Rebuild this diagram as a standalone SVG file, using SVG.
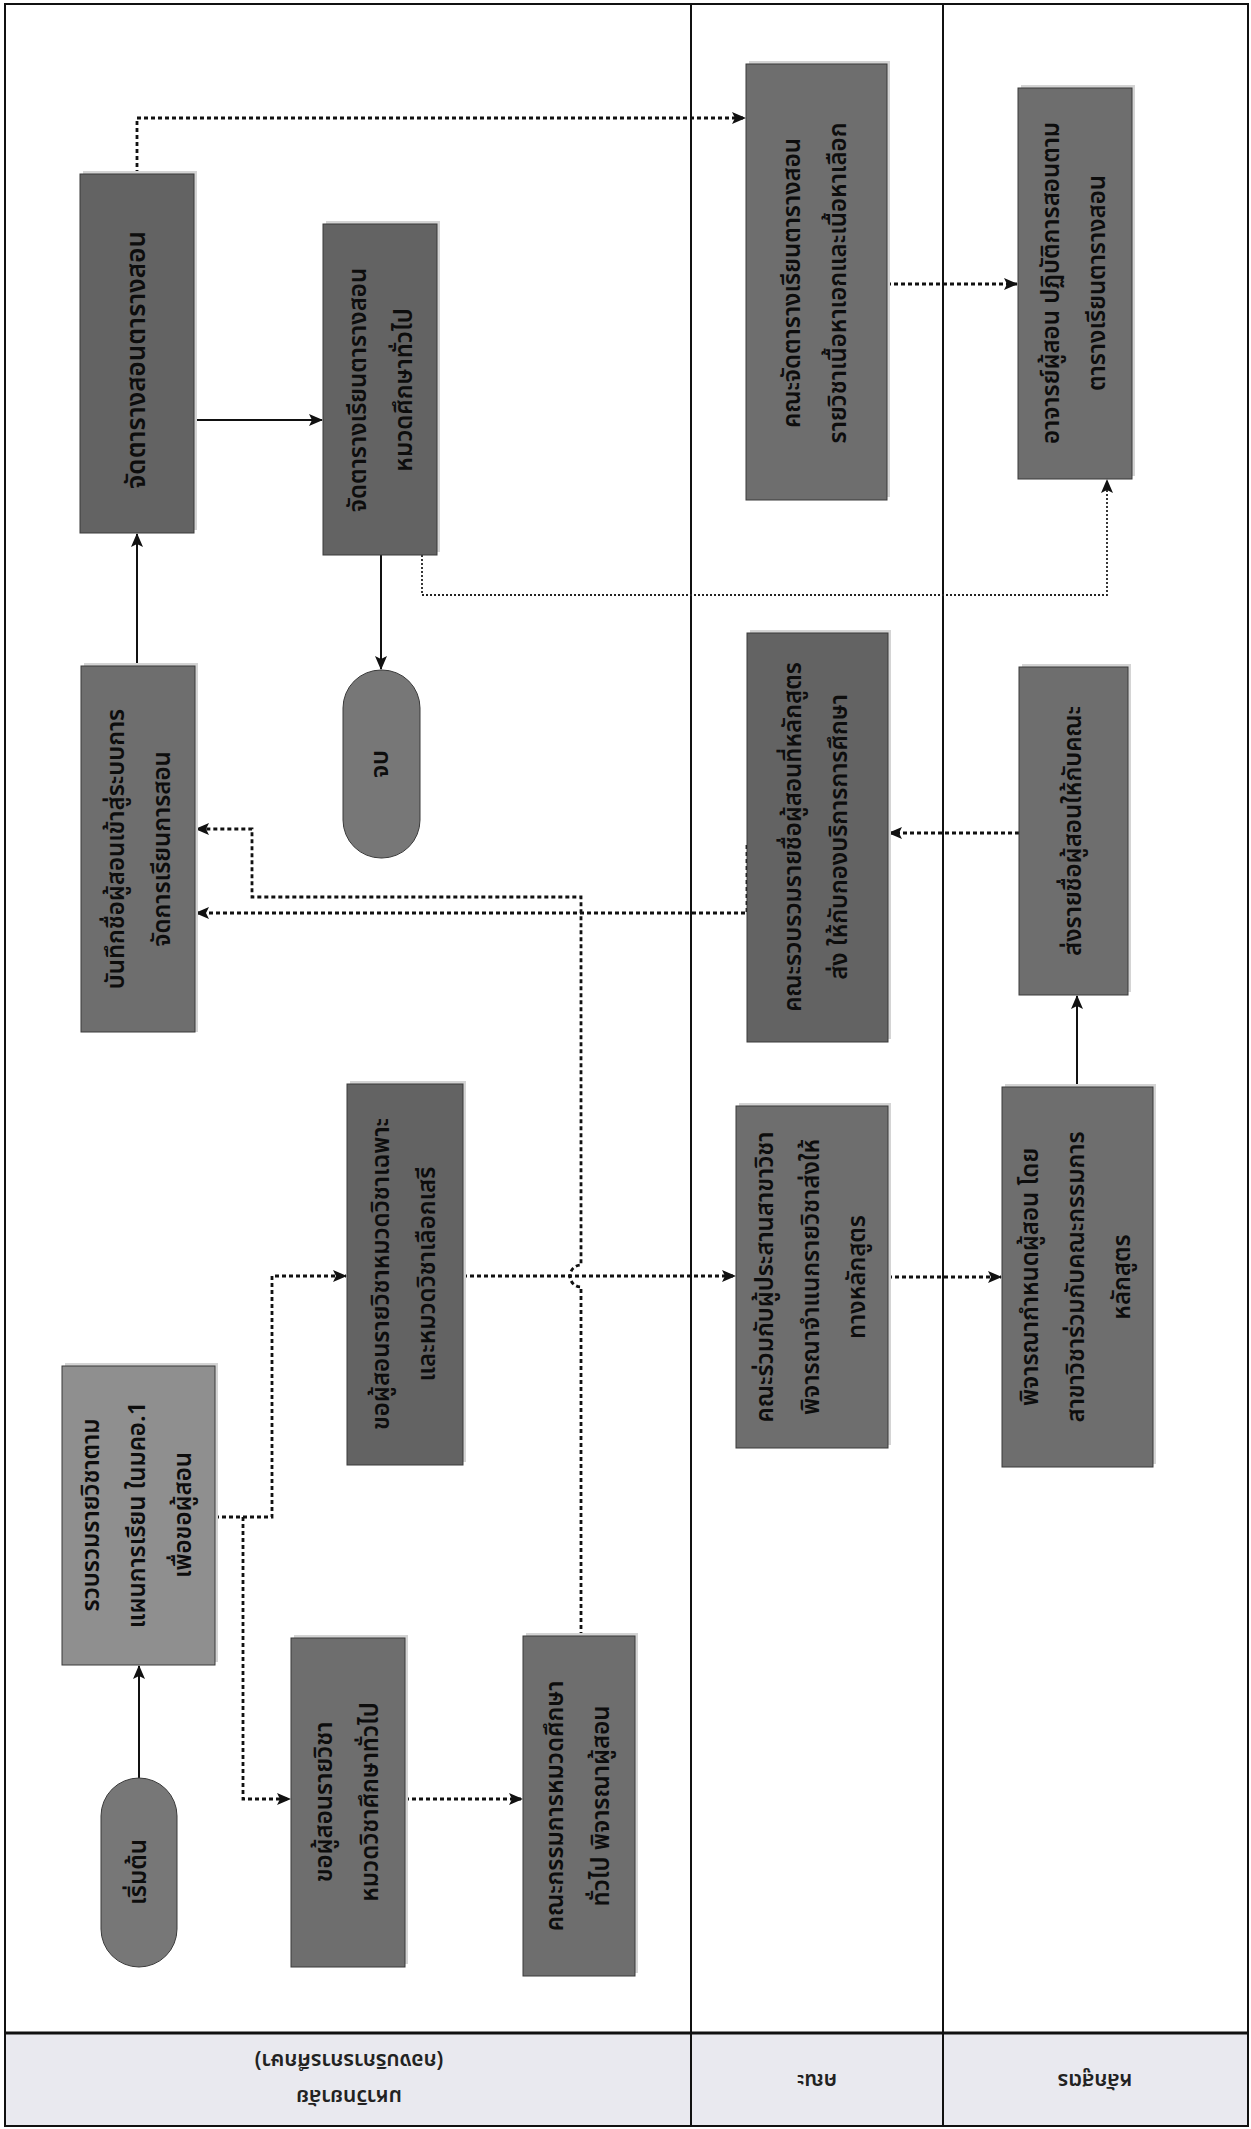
<svg xmlns="http://www.w3.org/2000/svg" width="1251" height="2129" viewBox="0 0 1251 2129">
<style>
.box{stroke:#3a3a3a;stroke-width:1}
.d1{fill:#6e6e6e}
.d2{fill:#636363}
.lt{fill:#8f8f8f}
.ov{fill:#777}
.sh{fill:#d4d4d4}
.t{font-family:"Noto Sans Thai","Tahoma","Noto Sans","DejaVu Sans",sans-serif;font-size:24px;font-weight:600;fill:#0d0d0d;text-anchor:middle;dominant-baseline:central}
.h{font-family:"Noto Sans Thai","Tahoma","Noto Sans","DejaVu Sans",sans-serif;font-size:21px;font-weight:600;fill:#222;text-anchor:middle;dominant-baseline:central}
.solid{fill:none;stroke:#111;stroke-width:2;marker-end:url(#ah)}
.dot{fill:none;stroke:#111;stroke-width:2.8;stroke-dasharray:4 3;marker-end:url(#ah)}
.fine{fill:none;stroke:#222;stroke-width:1.8;stroke-dasharray:2 2;marker-end:url(#ah)}
.lane{stroke:#111;stroke-width:2;fill:none}
</style>
<defs>
<marker id="ah" viewBox="0 0 14 12" refX="13" refY="6" markerWidth="14" markerHeight="12" markerUnits="userSpaceOnUse" orient="auto">
<path d="M0,0 L14,6 L0,12 L3,6 Z" fill="#111"/>
</marker>
</defs>
<rect width="1251" height="2129" fill="#fff"/>
<g id="lanes">
<rect x="5" y="2033" width="1243" height="93" fill="#e9e9ef"/>
<rect x="5" y="4" width="1243" height="2122" class="lane"/>
<line x1="5" y1="2033" x2="1248" y2="2033" stroke="#111" stroke-width="3"/>
<line x1="691" y1="4" x2="691" y2="2126" class="lane"/>
<line x1="943" y1="4" x2="943" y2="2126" class="lane"/>
<g transform="rotate(180 349 2078)">
<text class="h" x="349" y="2060">มหาวิทยาลัย</text>
<text class="h" x="349" y="2096">(กองบริการการศึกษา)</text>
</g>
<text class="h" transform="rotate(180 817 2080)" x="817" y="2080">คณะ</text>
<text class="h" transform="rotate(180 1095 2080)" x="1095" y="2080">หลักสูตร</text>
</g>
<g id="connectors">
<path class="solid" d="M139 1778 V1666"/>
<path class="dot" d="M215 1517 H272 V1276 H346"/>
<path class="dot" d="M243 1517 V1799 H290"/>
<path class="dot" d="M405 1799 H522"/>
<path class="dot" d="M463 1276 H735"/>
<path class="dot" d="M888 1277 H1001"/>
<path class="solid" d="M1077 1087 V996"/>
<path class="dot" d="M1019 833 H889"/>
<path class="dot" d="M747 845 V913 H196"/>
<path class="dot" d="M581 1636 V1287 A11 11 0 0 1 581 1265 V897 H252 V829 H196"/>
<path class="solid" d="M137 666 V534"/>
<path class="solid" d="M194 420 H322"/>
<path class="solid" d="M381 555 V669"/>
<path class="dot" d="M137 174 V118 H745"/>
<path class="dot" d="M887 284 H1017"/>
<path class="fine" d="M422 555 V595 H1107 V480"/>
</g>
<g id="n-start">
<rect class="box ov" x="101" y="1778" width="76" height="189" rx="38"/>
<text class="t" transform="translate(139 1872) rotate(-90)">เริ่มต้น</text>
</g>
<g id="n-collect">
<rect class="sh" x="65" y="1363" width="153" height="299"/>
<rect class="box lt" x="62" y="1366" width="153" height="299"/>
<g transform="translate(138 1515) rotate(-90)">
<text class="t" y="-46">รวบรวมรายวิชาตาม</text>
<text class="t" y="0">แผนการเรียน ในมคอ.1</text>
<text class="t" y="46">เพื่อขอผู้สอน</text>
</g>
</g>
<g id="n-general">
<rect class="sh" x="294" y="1635" width="114" height="329"/>
<rect class="box d1" x="291" y="1638" width="114" height="329"/>
<g transform="translate(348 1802) rotate(-90)">
<text class="t" y="-23">ขอผู้สอนรายวิชา</text>
<text class="t" y="23">หมวดวิชาศึกษาทั่วไป</text>
</g>
</g>
<g id="n-gencommittee">
<rect class="sh" x="526" y="1633" width="112" height="340"/>
<rect class="box d1" x="523" y="1636" width="112" height="340"/>
<g transform="translate(579 1806) rotate(-90)">
<text class="t" y="-23">คณะกรรมการหมวดศึกษา</text>
<text class="t" y="23">ทั่วไป พิจารณาผู้สอน</text>
</g>
</g>
<g id="n-major">
<rect class="sh" x="350" y="1081" width="116" height="381"/>
<rect class="box d2" x="347" y="1084" width="116" height="381"/>
<g transform="translate(405 1274) rotate(-90)">
<text class="t" y="-23">ขอผู้สอนรายวิชาหมวดวิชาเฉพาะ</text>
<text class="t" y="23">และหมวดวิชาเลือกเสรี</text>
</g>
</g>
<g id="n-record">
<rect class="sh" x="84" y="663" width="114" height="369"/>
<rect class="box d1" x="81" y="666" width="114" height="366"/>
<g transform="translate(140 849) rotate(-90)">
<text class="t" y="-23">บันทึกชื่อผู้สอนเข้าสู่ระบบการ</text>
<text class="t" y="23">จัดการเรียนการสอน</text>
</g>
</g>
<g id="n-schedule">
<rect class="sh" x="83" y="171" width="114" height="359"/>
<rect class="box d2" x="80" y="174" width="114" height="359"/>
<text class="t" transform="translate(137 360) rotate(-90)" style="font-size:26px">จัดตารางสอนตารางสอน</text>
</g>
<g id="n-genschedule">
<rect class="sh" x="326" y="221" width="114" height="331"/>
<rect class="box d2" x="323" y="224" width="114" height="331"/>
<g transform="translate(382 390) rotate(-90)">
<text class="t" y="-23">จัดตารางเรียนตารางสอน</text>
<text class="t" y="23">หมวดศึกษาทั่วไป</text>
</g>
</g>
<g id="n-end">
<rect class="box ov" x="343" y="670" width="77" height="188" rx="38"/>
<text class="t" transform="translate(381 764) rotate(-90)">จบ</text>
</g>
<g id="n-faculty-classify">
<rect class="sh" x="739" y="1103" width="152" height="342"/>
<rect class="box d1" x="736" y="1106" width="152" height="342"/>
<g transform="translate(812 1277) rotate(-90)">
<text class="t" y="-46">คณะร่วมกับผู้ประสานสาขาวิชา</text>
<text class="t" y="0">พิจารณาจำแนกรายวิชาส่งให้</text>
<text class="t" y="46">ทางหลักสูตร</text>
</g>
</g>
<g id="n-faculty-collect">
<rect class="sh" x="750" y="630" width="141" height="409"/>
<rect class="box d2" x="747" y="633" width="141" height="409"/>
<g transform="translate(817 837) rotate(-90)">
<text class="t" y="-23">คณะรวบรวมรายชื่อผู้สอนที่หลักสูตร</text>
<text class="t" y="23">ส่ง ให้กับกองบริการการศึกษา</text>
</g>
</g>
<g id="n-faculty-schedule">
<rect class="sh" x="749" y="61" width="141" height="436"/>
<rect class="box d1" x="746" y="64" width="141" height="436"/>
<g transform="translate(816 283) rotate(-90)">
<text class="t" y="-23">คณะจัดตารางเรียนตารางสอน</text>
<text class="t" y="23">รายวิชาเนื้อหาเอกและเนื้อหาเลือก</text>
</g>
</g>
<g id="n-program-assign">
<rect class="sh" x="1005" y="1084" width="151" height="380"/>
<rect class="box d1" x="1002" y="1087" width="151" height="380"/>
<g transform="translate(1077 1277) rotate(-90)">
<text class="t" y="-46">พิจารณากำหนดผู้สอน โดย</text>
<text class="t" y="0">สาขาวิชาร่วมกับคณะกรรมการ</text>
<text class="t" y="46">หลักสูตร</text>
</g>
</g>
<g id="n-program-send">
<rect class="sh" x="1022" y="664" width="109" height="328"/>
<rect class="box d1" x="1019" y="667" width="109" height="328"/>
<text class="t" transform="translate(1074 831) rotate(-90)">ส่งรายชื่อผู้สอนให้กับคณะ</text>
</g>
<g id="n-teach">
<rect class="sh" x="1021" y="85" width="114" height="391"/>
<rect class="box d1" x="1018" y="88" width="114" height="391"/>
<g transform="translate(1075 283) rotate(-90)">
<text class="t" y="-23">อาจารย์ผู้สอน ปฏิบัติการสอนตาม</text>
<text class="t" y="23">ตารางเรียนตารางสอน</text>
</g>
</g>
</svg>
